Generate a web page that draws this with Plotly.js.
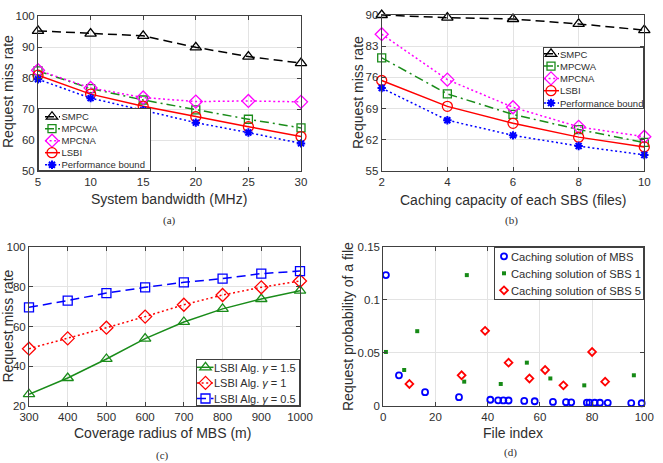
<!DOCTYPE html>
<html><head><meta charset="utf-8">
<script src="https://cdn.plot.ly/plotly-3.0.1.min.js"></script>
<style>html,body{margin:0;padding:0;background:#fff}#chart{width:663px;height:463px}</style>
</head><body><div id="chart"></div>
<script>
// ---------- (a) System bandwidth ----------
const bandwidth = [5, 10, 15, 20, 25, 30];
const aSMPC  = [95.2, 94.3, 93.6, 89.9, 86.9, 84.8];
const aMPCWA = [82.3, 76.6, 72.9, 69.7, 66.7, 63.9];
const aMPCNA = [82.5, 76.8, 73.7, 72.4, 72.6, 72.3];
const aLSBI  = [80.9, 74.8, 70.9, 67.5, 64.3, 61.1];
const aBound = [79.6, 73.5, 69.6, 65.6, 62.4, 58.9];
// ---------- (b) Caching capacity ----------
const capacity = [2, 4, 6, 8, 10];
const bSMPC  = [90.0, 89.4, 89.1, 88.0, 86.6];
const bMPCWA = [80.4, 72.3, 67.7, 64.3, 61.4];
const bMPCNA = [85.7, 75.5, 69.3, 64.9, 62.7];
const bLSBI  = [75.3, 69.5, 65.7, 62.6, 60.4];
const bBound = [73.6, 66.4, 63.0, 60.6, 58.6];
const bYTicks = [55, 62, 69, 76, 83, 90];
// ---------- (c) Coverage radius ----------
const radius = [300, 400, 500, 600, 700, 800, 900, 1000];
const cGamma15 = [25.8, 34.0, 43.6, 53.9, 62.3, 68.9, 73.9, 78.1];
const cGamma1  = [48.8, 54.0, 59.4, 65.0, 71.0, 75.9, 79.8, 83.0];
const cGamma05 = [69.7, 73.1, 76.9, 79.8, 82.3, 84.2, 86.7, 88.0];
// ---------- (d) Caching solutions ----------
const mbsIdx  = [1, 6, 16, 29, 41, 44, 46, 48, 54, 58, 65, 70, 72, 78, 79, 81, 83, 86, 95, 99];
const mbsProb = [0.1232, 0.0287, 0.0128, 0.0080, 0.0056, 0.0051, 0.0050, 0.0049, 0.0045, 0.0042,
                 0.0036, 0.0033, 0.0032, 0.0029, 0.0029, 0.0028, 0.0028, 0.0027, 0.0025, 0.0023];
const sbs1Idx  = [1, 8, 13, 31, 32, 45, 55, 64, 77, 96];
const sbs1Prob = [0.0507, 0.0337, 0.0703, 0.0227, 0.1232, 0.0205, 0.0406, 0.0257, 0.0192, 0.0287];
const sbs5Idx  = [10, 30, 39, 48, 56, 62, 69, 80, 85];
const sbs5Prob = [0.0205, 0.0287, 0.0706, 0.0406, 0.0257, 0.0337, 0.0192, 0.0507, 0.0227];
const dYTicks = [0, 0.05, 0.1, 0.15];
const dYText  = ['0', '0.05', '0.1', '0.15'];

const W = 663, H = 463;
const px = v => v / W, py = v => 1 - v / H;
const FONT = 'Liberation Sans, Arial, Helvetica, sans-serif';
const TXT = '#2e2e2e';
const GREEN = '#1a8c1a';
const DASH = '9px,5px', DOT = '2px,2.6px', DASHDOT = '9px,4px,2px,4px';

function line(x, y, name, color, dash, symbol, size, xa, ya, lg, mlw) {
  return {x, y, name, type: 'scatter', mode: 'lines+markers', xaxis: xa, yaxis: ya, legend: lg,
    cliponaxis: false,
    line: {color, width: 1.5, dash},
    marker: {symbol, size, color, line: {color, width: mlw || 1.3}}};
}
const traces = [
  line(bandwidth, aSMPC, 'SMPC', '#000000', DASH, 'triangle-up-open', 10, 'x', 'y', 'legend'),
  line(bandwidth, aMPCWA, 'MPCWA', GREEN, DASHDOT, 'square-open', 8, 'x', 'y', 'legend'),
  line(bandwidth, aMPCNA, 'MPCNA', '#ff00ff', DOT, 'diamond-open', 10, 'x', 'y', 'legend'),
  line(bandwidth, aLSBI, 'LSBI', '#ff0000', 'solid', 'circle-open', 10, 'x', 'y', 'legend'),
  line(bandwidth, aBound, 'Performance bound', '#0000ff', DOT, 'asterisk-open', 7, 'x', 'y', 'legend', 2),

  line(capacity, bSMPC, 'SMPC', '#000000', DASH, 'triangle-up-open', 10, 'x2', 'y2', 'legend2'),
  line(capacity, bMPCWA, 'MPCWA', GREEN, DASHDOT, 'square-open', 8, 'x2', 'y2', 'legend2'),
  line(capacity, bMPCNA, 'MPCNA', '#ff00ff', DOT, 'diamond-open', 10, 'x2', 'y2', 'legend2'),
  line(capacity, bLSBI, 'LSBI', '#ff0000', 'solid', 'circle-open', 10, 'x2', 'y2', 'legend2'),
  line(capacity, bBound, 'Performance bound', '#0000ff', DOT, 'asterisk-open', 7, 'x2', 'y2', 'legend2', 2),

  line(radius, cGamma15, 'LSBI Alg. <i>γ</i> = 1.5', GREEN, 'solid', 'triangle-up-open', 10, 'x3', 'y3', 'legend3'),
  line(radius, cGamma1, 'LSBI Alg. <i>γ</i> = 1', '#ff0000', DOT, 'diamond-open', 10, 'x3', 'y3', 'legend3'),
  line(radius, cGamma05, 'LSBI Alg. <i>γ</i> = 0.5', '#0000ff', DASH, 'square-open', 9, 'x3', 'y3', 'legend3'),

  {x: mbsIdx, y: mbsProb, name: 'Caching solution of MBS', type: 'scatter', mode: 'markers', xaxis: 'x4', yaxis: 'y4',
   legend: 'legend4', cliponaxis: false, marker: {symbol: 'circle-open', size: 6, color: '#0000ff', line: {width: 1.8, color: '#0000ff'}}},
  {x: sbs1Idx, y: sbs1Prob, name: 'Caching solution of SBS 1', type: 'scatter', mode: 'markers', xaxis: 'x4', yaxis: 'y4',
   legend: 'legend4', cliponaxis: false, marker: {symbol: 'square', size: 4, color: '#168a16'}},
  {x: sbs5Idx, y: sbs5Prob, name: 'Caching solution of SBS 5', type: 'scatter', mode: 'markers', xaxis: 'x4', yaxis: 'y4',
   legend: 'legend4', cliponaxis: false, marker: {symbol: 'diamond-open', size: 6, color: '#ff0000', line: {width: 1.8, color: '#ff0000'}}}
];

const ax = (o) => Object.assign({
  showline: true, mirror: 'ticks', linecolor: '#404040', linewidth: 1,
  ticks: 'inside', ticklen: 4, tickcolor: '#404040', tickwidth: 1,
  showgrid: true, gridcolor: '#e3e3e3', gridwidth: 1, zeroline: false,
  tickfont: {family: FONT, size: 11.5, color: TXT}, fixedrange: true, automargin: false
}, o);

const legendBase = (x, y, xa, size) => ({
  x, y, xanchor: xa, yanchor: 'top', xref: 'paper', yref: 'paper',
  bgcolor: '#ffffff', bordercolor: '#404040', borderwidth: 1,
  font: {family: FONT, size, color: TXT}, traceorder: 'normal'
});

function ann(text, x, y, size, angle, family) {
  return {text, xref: 'paper', yref: 'paper', x: px(x), y: py(y), xanchor: 'center', yanchor: 'middle',
    showarrow: false, textangle: angle || 0, font: {family: family || FONT, size, color: TXT}};
}
const SERIF = 'Liberation Serif, DejaVu Serif, serif';

const layout = {
  width: W, height: H, margin: {l: 0, r: 0, t: 0, b: 0},
  paper_bgcolor: '#ffffff', plot_bgcolor: '#ffffff', showlegend: true,
  font: {family: FONT, color: TXT},
  xaxis:  ax({domain: [px(38), px(301)], anchor: 'y', range: [5, 30], tick0: 5, dtick: 5}),
  yaxis:  ax({domain: [py(171), py(16)], anchor: 'x', range: [50, 100], dtick: 10}),
  xaxis2: ax({domain: [px(381.7), px(644.3)], anchor: 'y2', range: [2, 10], dtick: 2}),
  yaxis2: ax({domain: [py(171), py(15)], anchor: 'x2', range: [55, 90], tickvals: bYTicks}),
  xaxis3: ax({domain: [px(29), px(300)], anchor: 'y3', range: [300, 1000], dtick: 100}),
  yaxis3: ax({domain: [py(405.7), py(247.3)], anchor: 'x3', range: [20, 100], dtick: 20}),
  xaxis4: ax({domain: [px(383.3), px(644.3)], anchor: 'y4', range: [0, 100], dtick: 20}),
  yaxis4: ax({domain: [py(405.7), py(246.7)], anchor: 'x4', range: [0, 0.15], tickvals: dYTicks, ticktext: dYText}),
  legend:  legendBase(px(38), py(108), 'left', 9.5),
  legend2: legendBase(px(644), py(47), 'right', 9.5),
  legend3: legendBase(px(300), py(359), 'right', 11),
  legend4: legendBase(px(644), py(247), 'right', 11.2),
  annotations: [
    ann('Request miss rate', 8, 92, 14, -90),
    ann('Request miss rate', 358, 93, 14, -90),
    ann('Request miss rate', 7.5, 326, 14, -90),
    ann('Request probability of a file', 348, 327, 14, -90),
    ann('System bandwidth (MHz)', 169, 199, 14),
    ann('Caching capacity of each SBS (files)', 513, 200, 14),
    ann('Coverage radius of MBS (m)', 162, 433, 14),
    ann('File index', 513, 433, 14),
    ann('(a)', 170, 220, 11, 0, SERIF),
    ann('(b)', 511, 220, 11, 0, SERIF),
    ann('(c)', 162, 455, 11, 0, SERIF),
    ann('(d)', 510, 452, 11, 0, SERIF)
  ]
};

// Compact MATLAB-style legend boxes (positions in page pixels)
const legendBoxes = {
  legend:  {left: 38,  top: 108, w: 113, h: 63, first: 8.7, sp: 12.0, line: [7, 22],   mk: 14,  tx: 23.5},
  legend2: {left: 543, top: 47,  w: 101, h: 62, first: 6.8, sp: 12.3, line: [1, 16],   mk: 8,   tx: 17},
  legend3: {left: 196, top: 359, w: 104, h: 47, first: 8.3, sp: 15.6, line: [1, 17.5], mk: 9.5, tx: 18},
  legend4: {left: 494, top: 247, w: 150, h: 53, first: 9.3, sp: 17.0, line: null,      mk: 10,  tx: 17}
};

function compactLegends() {
  Object.keys(legendBoxes).forEach(id => {
    try {
      const b = legendBoxes[id];
      const g = document.querySelector('g.' + id);
      if (!g) return;
      g.setAttribute('transform', `translate(${b.left},${b.top})`);
      const bg = g.querySelector('rect.bg');
      if (bg) { bg.setAttribute('x', 0.5); bg.setAttribute('y', 0.5); bg.setAttribute('width', b.w - 1); bg.setAttribute('height', b.h - 1); }
      const sb = g.querySelector('g.scrollbox');
      if (sb) { sb.removeAttribute('clip-path'); sb.setAttribute('transform', 'translate(0,0)'); }
      g.querySelectorAll('g.groups').forEach(gr => gr.setAttribute('transform', 'translate(0,0)'));
      g.querySelectorAll('g.traces').forEach((t, i) => {
        t.setAttribute('transform', `translate(0,${b.first + i * b.sp})`);
        if (b.line) t.querySelectorAll('g.legendlines path').forEach(p => p.setAttribute('d', `M${b.line[0]},0h${b.line[1] - b.line[0]}`));
        t.querySelectorAll('g.legendpoints path').forEach(p => p.setAttribute('transform', `translate(${b.mk},0)`));
        t.querySelectorAll('text.' + id + 'text, text.legendtext').forEach(tx => {
          tx.removeAttribute('transform');
          tx.setAttribute('text-anchor', 'start');
          tx.setAttribute('x', b.tx);
          tx.querySelectorAll('tspan[x]').forEach(s => s.setAttribute('x', b.tx));
          const bb = tx.getBBox();
          const dx = b.tx - bb.x;
          if (Math.abs(dx) > 0.3) tx.setAttribute('transform', `translate(${dx},0)`);
        });
        t.querySelectorAll('rect.' + id + 'toggle, rect.legendtoggle').forEach(tg => { tg.setAttribute('x', 0); tg.setAttribute('width', b.w); });
      });
    } catch (e) { /* keep default legend */ }
  });
}

Plotly.newPlot('chart', traces, layout, {staticPlot: true, displayModeBar: false}).then(() => {
  compactLegends();
  setTimeout(compactLegends, 30);
  setTimeout(compactLegends, 200);
});
</script>
</body></html>
